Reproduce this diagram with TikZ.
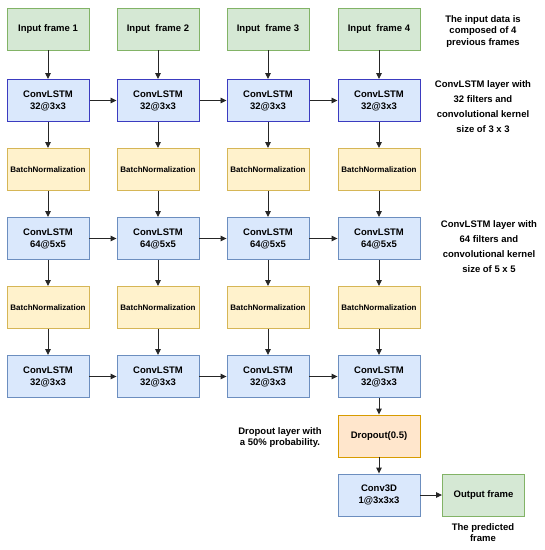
\documentclass[tikz,border=0pt]{standalone}
\usepackage{fontspec}
\setmainfont{Liberation Sans}
\usetikzlibrary{arrows.meta, positioning}

\definecolor{ingreen}{HTML}{D5E8D4}
\definecolor{inline}{HTML}{82B366}
\definecolor{lstmblue}{HTML}{DAE8FC}
\definecolor{lstmline}{HTML}{6C8EBF}
\definecolor{lstmdark}{HTML}{3B3BC0}
\definecolor{bnyellow}{HTML}{FFF2CC}
\definecolor{bnline}{HTML}{D6B656}
\definecolor{droporange}{HTML}{FFE6CC}
\definecolor{dropline}{HTML}{D79B00}

\tikzset{
  layerbox/.style={draw, line width=0.9pt, minimum width=82pt, minimum height=42pt,
    inner sep=0pt, align=center, font=\fontsize{9.5}{12}\selectfont\bfseries},
  inbox/.style={layerbox, fill=ingreen, draw=inline},
  lstmbox/.style={layerbox, fill=lstmblue, draw=lstmline},
  firstbox/.style={layerbox, fill=lstmblue, draw=lstmdark, line width=1pt},
  bnbox/.style={layerbox, fill=bnyellow, draw=bnline, font=\fontsize{8}{10}\selectfont\bfseries},
  dropbox/.style={layerbox, fill=droporange, draw=dropline},
  note/.style={align=center, inner sep=0pt, font=\fontsize{9.5}{11.5}\selectfont\bfseries},
  flow/.style={-{Triangle[length=6pt,width=5.5pt]}, line width=0.9pt, draw=black!85}
}

\begin{document}
\begin{tikzpicture}[x=1pt, y=-1pt]
  \useasboundingbox (0,0) rectangle (545,550);

  % four time steps, one column each
  \foreach \i/\x in {1/48,2/158,3/268,4/379} {
    \ifnum\i=1
      \node[inbox] (in\i) at (\x, 29) {Input frame \i};
    \else
      \node[inbox] (in\i) at (\x, 29) {Input~ frame \i};
    \fi
    \node[firstbox] (la\i) at (\x, 100.5) {ConvLSTM\\32@3x3};
    \node[bnbox] (ba\i) at (\x, 169.5) {BatchNormalization};
    \node[lstmbox] (lb\i) at (\x, 238.5) {ConvLSTM\\64@5x5};
    \node[bnbox] (bb\i) at (\x, 307.5) {BatchNormalization};
    \node[lstmbox] (lc\i) at (\x, 376.5) {ConvLSTM\\32@3x3};

    \draw[flow] (in\i) -- (la\i);
    \draw[flow] (la\i) -- (ba\i);
    \draw[flow] (ba\i) -- (lb\i);
    \draw[flow] (lb\i) -- (bb\i);
    \draw[flow] (bb\i) -- (lc\i);
  }

  % recurrent connections between steps
  \foreach \i/\j in {1/2,2/3,3/4} {
    \draw[flow] (la\i) -- (la\j);
    \draw[flow] (lb\i) -- (lb\j);
    \draw[flow] (lc\i) -- (lc\j);
  }

  % output head
  \node[dropbox] (drop) at (379, 436) {Dropout(0.5)};
  \node[lstmbox] (conv) at (379, 495) {Conv3D\\1@3x3x3};
  \node[inbox] (out) at (483.5, 495) {Output frame};

  \draw[flow] (lc4) -- (drop);
  \draw[flow] (drop) -- (conv);
  \draw[flow] (conv) -- (out);

  % side notes
  \node[note] (noteIn) at (483, 31.5) {The input data is\\composed of 4\\previous frames};
  \node[note, font=\fontsize{9.5}{15}\selectfont\bfseries] (noteA) at (483, 106.5)
    {ConvLSTM layer with\\32 filters and\\convolutional kernel\\size of 3 x 3};
  \node[note, font=\fontsize{9.5}{15}\selectfont\bfseries] (noteB) at (489, 246.5)
    {ConvLSTM layer with\\64 filters and\\convolutional kernel\\size of 5 x 5};
  \node[note] (noteDrop) at (280, 437.5) {Dropout layer with\\a 50\% probability.};
  \node[note] (noteOut) at (483, 532.5) {The predicted\\frame};
\end{tikzpicture}
\end{document}
